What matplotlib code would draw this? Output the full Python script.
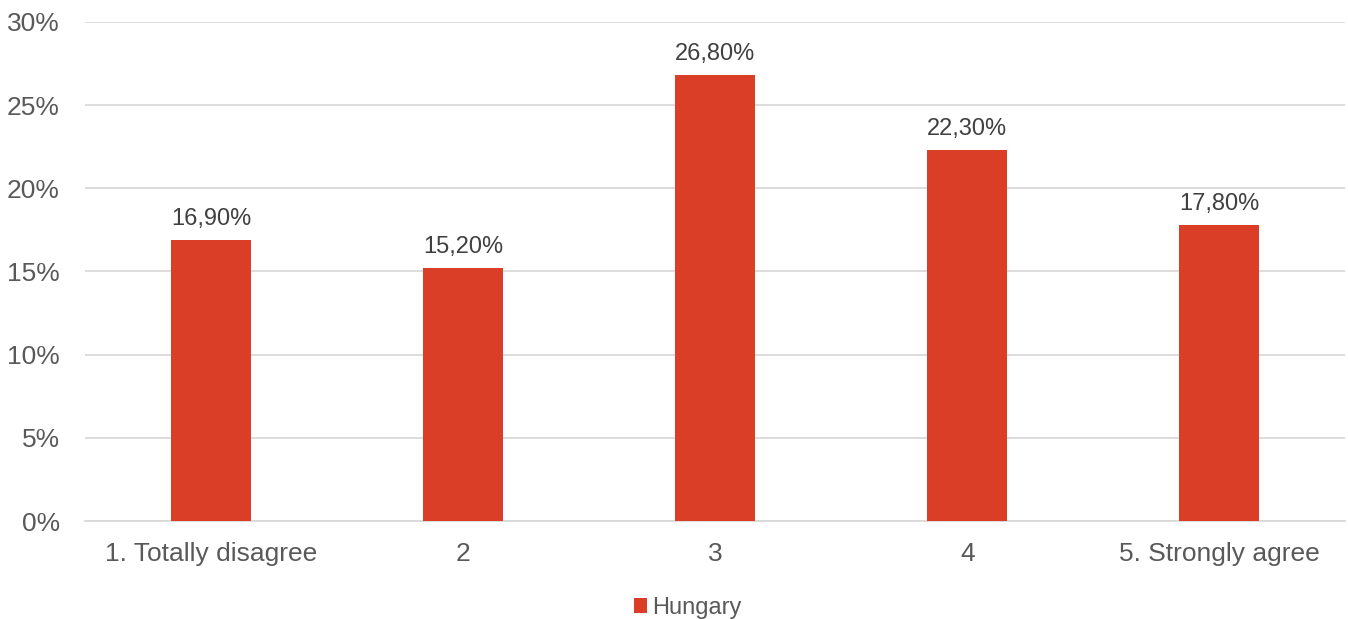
import matplotlib.pyplot as plt
from matplotlib.ticker import FuncFormatter

categories = ["1. Totally disagree", "2", "3", "4", "5. Strongly agree"]
hungary = [16.9, 15.2, 26.8, 22.3, 17.8]
y_ticks = [0, 5, 10, 15, 20, 25, 30]

plt.rcParams["font.family"] = ["Liberation Sans", "DejaVu Sans"]

fig = plt.figure(figsize=(13.48, 6.19), dpi=100)
ax = fig.add_axes([0.063, 0.1583, 0.935, 0.8062])

x = range(len(categories))
bars = ax.bar(x, hungary, width=0.316, color="#DA3E26", label="Hungary", zorder=3)

# data labels with comma as decimal separator
for b, v in zip(bars, hungary):
    ax.text(b.get_x() + b.get_width() / 2, v + 0.6, f"{v:.2f}%".replace(".", ","),
            ha="center", va="bottom", fontsize=17, color="#404040")

ax.set_xlim(-0.5, len(categories) - 0.5)
ax.set_ylim(0, 30)
ax.set_yticks(y_ticks)
ax.yaxis.set_major_formatter(FuncFormatter(lambda v, _: f"{v:.0f}%"))
ax.set_xticks(list(x))
ax.set_xticklabels(categories)

ax.grid(axis="y", color="#D9D9D9", linewidth=1.3, zorder=0)
for s in ["top", "right", "left"]:
    ax.spines[s].set_visible(False)
ax.spines["bottom"].set_color("#D9D9D9")
ax.spines["bottom"].set_linewidth(1.3)
ax.tick_params(axis="both", length=0, labelsize=19, labelcolor="#595959")
ax.tick_params(axis="x", pad=15)
ax.tick_params(axis="y", pad=18)

fig.legend(loc="center", bbox_to_anchor=(0.51, 0.018), frameon=False, fontsize=17,
           labelcolor="#595959", handlelength=0.55, handleheight=0.55, handletextpad=0.2)

fig.savefig("out.png", dpi=100)
